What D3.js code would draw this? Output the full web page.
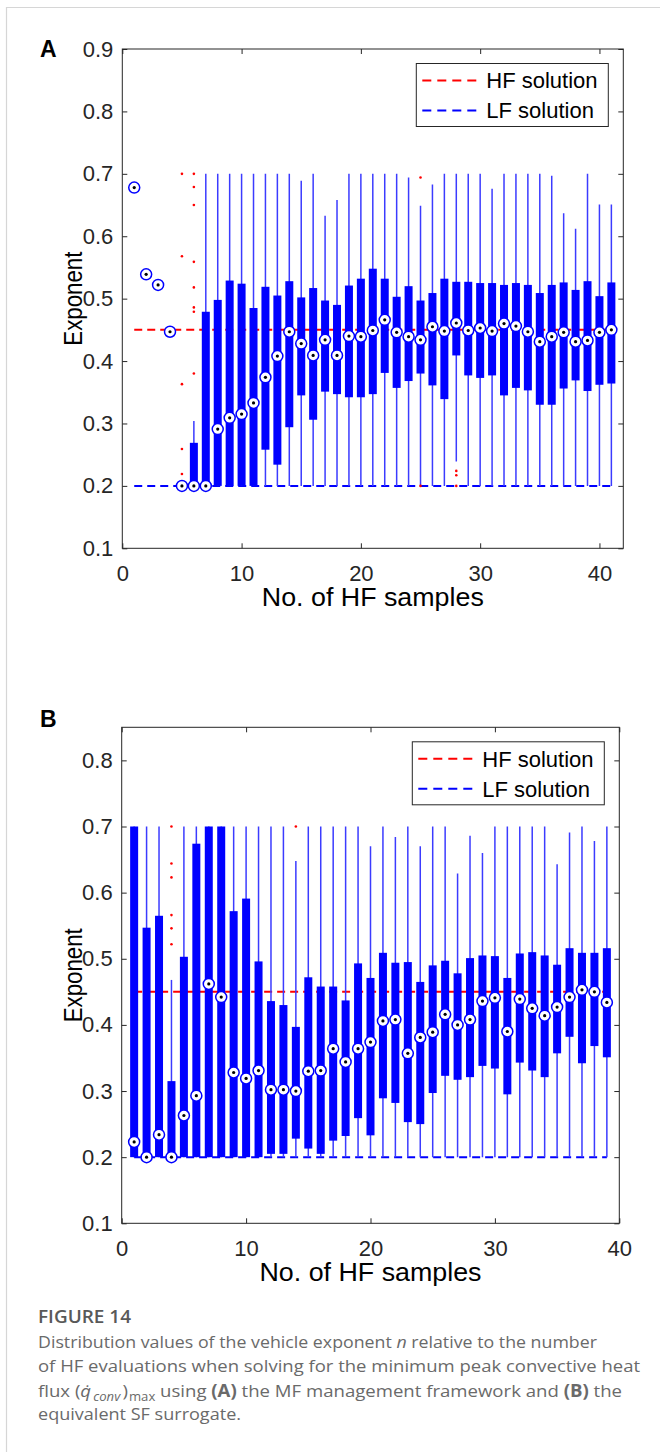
<!DOCTYPE html>
<html><head><meta charset="utf-8">
<script src="https://cdn.jsdelivr.net/npm/d3@7"></script>
<style>body{margin:0;background:#fff} svg{display:block}</style>
</head><body>
<svg id="fig" width="660" height="1452"></svg>
<script>
// ---------------- DATA ----------------
const hfSolution = 0.45;
const lfSolution = 0.2;
const xTicksA = [0, 10, 20, 30, 40];
const yTicksA = [0.1, 0.2, 0.3, 0.4, 0.5, 0.6, 0.7, 0.8, 0.9];
const xTicksB = [0, 10, 20, 30, 40];
const yTicksB = [0.1, 0.2, 0.3, 0.4, 0.5, 0.6, 0.7, 0.8];

// Panel A: MF management framework (41 sample counts)
const samplesA = [1,2,3,4,5,6,7,8,9,10,11,12,13,14,15,16,17,18,19,20,21,22,23,24,25,26,27,28,29,30,31,32,33,34,35,36,37,38,39,40,41];
const medianA = [0.678,0.539,0.522,0.447,0.2,0.2,0.2,0.291,0.309,0.315,0.333,0.374,0.408,0.447,0.428,0.409,0.434,0.409,0.440,0.439,0.449,0.466,0.446,0.439,0.434,0.455,0.448,0.461,0.449,0.453,0.448,0.460,0.456,0.447,0.431,0.439,0.446,0.431,0.433,0.446,0.450];
const q1A = [0.678,0.539,0.522,0.447,0.2,0.2,0.2,0.2,0.2,0.2,0.2,0.258,0.234,0.294,0.345,0.306,0.351,0.347,0.342,0.342,0.347,0.381,0.357,0.368,0.380,0.361,0.339,0.409,0.377,0.373,0.377,0.345,0.357,0.353,0.330,0.330,0.356,0.369,0.352,0.362,0.364];
const q3A = [0.678,0.539,0.522,0.447,0.2,0.269,0.479,0.498,0.529,0.524,0.485,0.519,0.505,0.528,0.502,0.517,0.497,0.490,0.521,0.532,0.548,0.532,0.503,0.520,0.497,0.509,0.532,0.527,0.527,0.525,0.525,0.522,0.525,0.522,0.509,0.522,0.526,0.514,0.528,0.504,0.526];
const whiskerHiA = [0.678,0.539,0.522,0.447,0.2,0.304,0.7,0.7,0.7,0.7,0.7,0.7,0.7,0.7,0.689,0.7,0.633,0.658,0.7,0.7,0.7,0.7,0.7,0.694,0.649,0.683,0.7,0.7,0.7,0.7,0.676,0.7,0.7,0.7,0.7,0.697,0.637,0.612,0.7,0.651,0.651];
const whiskerLoA = [0.678,0.539,0.522,0.447,0.2,0.2,0.2,0.2,0.2,0.2,0.2,0.2,0.2,0.2,0.2,0.2,0.2,0.2,0.2,0.2,0.2,0.2,0.2,0.2,0.2,0.2,0.2,0.239,0.2,0.2,0.2,0.2,0.2,0.2,0.2,0.2,0.2,0.2,0.2,0.2,0.2];
const outlierSampleA = [5,5,5,5,5,6,6,6,6,6,6,6,6,25,25,28,28,28];
const outlierValueA  = [0.7,0.568,0.363,0.259,0.219,0.7,0.679,0.650,0.559,0.518,0.486,0.479,0.380,0.694,0.2,0.224,0.217,0.2];

// Panel B: equivalent SF surrogate (39 sample counts)
const samplesB = [1,2,3,4,5,6,7,8,9,10,11,12,13,14,15,16,17,18,19,20,21,22,23,24,25,26,27,28,29,30,31,32,33,34,35,36,37,38,39];
const medianB = [0.223,0.2,0.234,0.2,0.263,0.293,0.462,0.442,0.328,0.319,0.331,0.302,0.302,0.300,0.330,0.331,0.364,0.344,0.364,0.374,0.406,0.408,0.357,0.381,0.389,0.416,0.400,0.408,0.436,0.441,0.390,0.439,0.425,0.414,0.427,0.442,0.453,0.450,0.434];
const q1B = [0.2,0.2,0.2,0.2,0.2,0.2,0.2,0.2,0.2,0.2,0.2,0.205,0.205,0.228,0.213,0.205,0.225,0.232,0.259,0.233,0.289,0.282,0.253,0.250,0.297,0.323,0.317,0.321,0.338,0.334,0.295,0.343,0.331,0.321,0.357,0.382,0.342,0.368,0.351];
const q3B = [0.7,0.547,0.565,0.315,0.503,0.674,0.7,0.7,0.572,0.591,0.496,0.436,0.430,0.397,0.472,0.458,0.458,0.437,0.493,0.471,0.509,0.494,0.495,0.465,0.490,0.497,0.478,0.501,0.505,0.504,0.471,0.508,0.510,0.505,0.491,0.516,0.509,0.509,0.516];
const whiskerHiB = [0.7,0.7,0.7,0.468,0.7,0.7,0.7,0.7,0.7,0.7,0.7,0.7,0.7,0.648,0.7,0.7,0.7,0.7,0.7,0.670,0.7,0.684,0.7,0.670,0.7,0.7,0.629,0.686,0.660,0.7,0.7,0.7,0.7,0.7,0.643,0.691,0.7,0.678,0.7];
const whiskerLoB = [0.2,0.2,0.2,0.2,0.2,0.2,0.2,0.2,0.2,0.2,0.2,0.2,0.2,0.2,0.2,0.2,0.2,0.2,0.2,0.2,0.2,0.2,0.2,0.2,0.2,0.2,0.2,0.2,0.2,0.2,0.2,0.2,0.2,0.2,0.2,0.2,0.2,0.2,0.2];
const outlierSampleB = [4,4,4,4,4,4,14];
const outlierValueB  = [0.7,0.644,0.623,0.566,0.546,0.522,0.7];

const legendLabels = ["HF solution", "LF solution"];

// ---------------- DRAWING ----------------
const svg = d3.select("#fig");
const FONT = "'Liberation Sans', Arial, Helvetica, sans-serif";
const INK = "#262626";

// card border
svg.append("path").attr("d", "M660,7.5 H6.5 V1452")
  .attr("fill", "none").attr("stroke", "#d6d6d6").attr("stroke-width", 1.2);

function panel(o) {
  const g = svg.append("g");
  const x = d3.scaleLinear().domain(o.xDomain).range([o.left, o.right]);
  const y = d3.scaleLinear().domain(o.yDomain).range([o.bottom, o.top]);
  const first = o.samples[0], last = o.samples[o.samples.length - 1];

  // reference lines
  g.append("line").attr("x1", x(first)).attr("x2", x(last))
    .attr("y1", y(hfSolution)).attr("y2", y(hfSolution))
    .attr("stroke", "#ff0000").attr("stroke-width", 2).attr("stroke-dasharray", "8,5");
  g.append("line").attr("x1", x(first)).attr("x2", x(last))
    .attr("y1", y(lfSolution)).attr("y2", y(lfSolution))
    .attr("stroke", "#0000ff").attr("stroke-width", 2).attr("stroke-dasharray", "8,5");

  const idx = d3.range(o.samples.length);
  // whiskers
  g.selectAll(".wh").data(idx).join("line")
    .attr("x1", i => x(o.samples[i])).attr("x2", i => x(o.samples[i]))
    .attr("y1", i => y(o.hi[i])).attr("y2", i => y(o.lo[i]))
    .attr("stroke", "#3b3bff").attr("stroke-width", 1.5);
  // boxes
  g.selectAll(".bx").data(idx.filter(i => o.q3[i] > o.q1[i])).join("rect")
    .attr("x", i => x(o.samples[i]) - 4).attr("width", 8)
    .attr("y", i => y(o.q3[i])).attr("height", i => y(o.q1[i]) - y(o.q3[i]))
    .attr("fill", "#0000ff");
  // outliers
  g.selectAll(".out").data(d3.range(o.outS.length)).join("circle")
    .attr("cx", i => x(o.outS[i])).attr("cy", i => y(o.outV[i]))
    .attr("r", 1.3).attr("fill", "#ff0000");
  // medians
  g.selectAll(".med").data(idx).join("circle")
    .attr("cx", i => x(o.samples[i])).attr("cy", i => y(o.med[i]))
    .attr("r", 5.5).attr("fill", "#fff").attr("stroke", "#0000ff").attr("stroke-width", 1.5);
  g.selectAll(".medd").data(idx).join("circle")
    .attr("cx", i => x(o.samples[i])).attr("cy", i => y(o.med[i]))
    .attr("r", 1.6).attr("fill", "#000");

  // axes
  const fs = 22;
  const axB = g.append("g").attr("transform", `translate(0,${o.bottom})`)
    .call(d3.axisBottom(x).tickValues(o.xTicks).tickFormat(d3.format("d")).tickSizeInner(-5).tickSizeOuter(0).tickPadding(17));
  const axT = g.append("g").attr("transform", `translate(0,${o.top})`)
    .call(d3.axisTop(x).tickValues(o.xTicks).tickFormat("").tickSizeInner(-5).tickSizeOuter(0));
  const axL = g.append("g").attr("transform", `translate(${o.left},0)`)
    .call(d3.axisLeft(y).tickValues(o.yTicks).tickFormat(d3.format(".1f")).tickSizeInner(-5).tickSizeOuter(0).tickPadding(9));
  const axR = g.append("g").attr("transform", `translate(${o.right},0)`)
    .call(d3.axisRight(y).tickValues(o.yTicks).tickFormat("").tickSizeInner(-5).tickSizeOuter(0));
  [axB, axT, axL, axR].forEach(a => {
    a.select(".domain").remove();
    a.selectAll("line").attr("stroke", INK);
    a.selectAll("text").attr("font-family", FONT).attr("font-size", fs).attr("fill", INK);
  });
  // frame
  g.append("rect").attr("x", o.left).attr("y", o.top)
    .attr("width", o.right - o.left).attr("height", o.bottom - o.top)
    .attr("fill", "none").attr("stroke", INK).attr("stroke-width", 1);

  // axis titles
  g.append("text").attr("x", (o.left + o.right) / 2).attr("y", o.bottom + 58)
    .attr("text-anchor", "middle").attr("font-family", FONT).attr("font-size", 25).attr("fill", "#000")
    .attr("textLength", 222).attr("lengthAdjust", "spacingAndGlyphs")
    .text("No. of HF samples");
  g.append("text").attr("transform", `translate(${o.left - 40},${(o.top + o.bottom) / 2}) rotate(-90)`)
    .attr("text-anchor", "middle").attr("font-family", FONT).attr("font-size", 25).attr("fill", "#000")
    .attr("textLength", 94).attr("lengthAdjust", "spacingAndGlyphs")
    .text("Exponent");
  // panel letter
  g.append("text").attr("x", 40).attr("y", o.letterY).attr("font-family", FONT)
    .attr("font-weight", "bold").attr("font-size", 23).attr("fill", "#000").text(o.letter);

  // legend
  const lw = 192, lh = 63;
  const lx = o.right - 15 - lw, ly = o.top + 14.5;
  const lg = g.append("g");
  lg.append("rect").attr("x", lx).attr("y", ly).attr("width", lw).attr("height", lh)
    .attr("fill", "#fff").attr("stroke", INK).attr("stroke-width", 1);
  const colors = ["#ff0000", "#0000ff"];
  legendLabels.forEach((lab, k) => {
    const cy = ly + 17 + k * 30;
    lg.append("line").attr("x1", lx + 6).attr("x2", lx + 61).attr("y1", cy).attr("y2", cy)
      .attr("stroke", colors[k]).attr("stroke-width", 2).attr("stroke-dasharray", "9,6");
    lg.append("text").attr("x", lx + 70).attr("y", cy).attr("dy", "0.36em")
      .attr("font-family", FONT).attr("font-size", 22).attr("fill", "#000").text(lab);
  });
}

panel({letter: "A", letterY: 57, left: 122.3, right: 623.3, top: 49, bottom: 548.3,
  xDomain: [0, 42], yDomain: [0.1, 0.9], xTicks: xTicksA, yTicks: yTicksA,
  samples: samplesA, med: medianA, q1: q1A, q3: q3A, hi: whiskerHiA, lo: whiskerLoA,
  outS: outlierSampleA, outV: outlierValueA});
panel({letter: "B", letterY: 727, left: 121.7, right: 619.3, top: 727.3, bottom: 1223.3,
  xDomain: [0, 40], yDomain: [0.1, 0.85], xTicks: xTicksB, yTicks: yTicksB,
  samples: samplesB, med: medianB, q1: q1B, q3: q3B, hi: whiskerHiB, lo: whiskerLoB,
  outS: outlierSampleB, outV: outlierValueB});

// caption
const CAP = "'Open Sans', 'Noto Sans', sans-serif";
const capColor = "#6a6a6a";
svg.append("text").attr("x", 38).attr("y", 1323).attr("font-family", CAP)
  .attr("font-size", 17.5).attr("font-weight", 600).attr("fill", "#595959")
  .attr("textLength", 93).attr("lengthAdjust", "spacingAndGlyphs").text("FIGURE 14");
const l1 = svg.append("text").attr("x", 38).attr("y", 1348).attr("font-family", CAP)
  .attr("font-size", 17).attr("fill", capColor).attr("textLength", 559).attr("lengthAdjust", "spacingAndGlyphs");
l1.append("tspan").text("Distribution values of the vehicle exponent ");
l1.append("tspan").attr("font-style", "italic").text("n");
l1.append("tspan").text(" relative to the number");
svg.append("text").attr("x", 38).attr("y", 1372).attr("font-family", CAP)
  .attr("font-size", 17).attr("fill", capColor).attr("textLength", 602).attr("lengthAdjust", "spacingAndGlyphs")
  .text("of HF evaluations when solving for the minimum peak convective heat");
const l3 = svg.append("text").attr("x", 38).attr("y", 1397).attr("font-family", CAP)
  .attr("font-size", 17).attr("fill", capColor).attr("textLength", 584).attr("lengthAdjust", "spacingAndGlyphs");
l3.append("tspan").text("flux (");
l3.append("tspan").attr("font-style", "italic").text("q\u0307");
l3.append("tspan").attr("font-style", "italic").attr("font-size", 12).attr("dx", 2).attr("dy", 4).text("conv");
l3.append("tspan").attr("dx", 2).attr("dy", -4).text(")");
l3.append("tspan").attr("font-size", 12).attr("dx", 1).attr("dy", 4).text("max");
l3.append("tspan").attr("dy", -4).text(" using ");
l3.append("tspan").attr("font-weight", "bold").text("(A)");
l3.append("tspan").text(" the MF management framework and ");
l3.append("tspan").attr("font-weight", "bold").text("(B)");
l3.append("tspan").text(" the");
svg.append("text").attr("x", 38).attr("y", 1420).attr("font-family", CAP)
  .attr("font-size", 17).attr("fill", capColor).attr("textLength", 203).attr("lengthAdjust", "spacingAndGlyphs")
  .text("equivalent SF surrogate.");
</script>
</body></html>
